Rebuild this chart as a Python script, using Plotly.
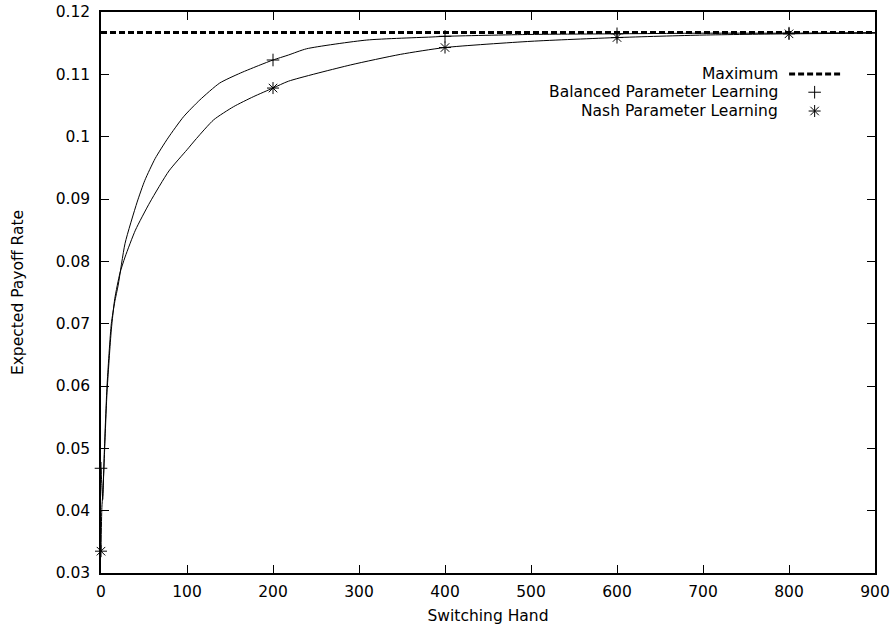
import plotly.graph_objects as go

# Learning curves: expected payoff rate against the hand at which play switches
hands_balanced = [0, 1, 2, 3, 4, 7, 12, 16, 20, 28, 42, 51, 63, 78, 96, 115, 138,
                  162, 185, 200, 218, 239, 309, 386, 400, 500, 600, 700, 800, 900]
payoff_balanced = [0.0468, 0.0440, 0.0418, 0.0455, 0.0500, 0.0600, 0.0700, 0.0735,
                   0.0762, 0.0829, 0.0895, 0.0930, 0.0965, 0.0998, 0.1032, 0.1059,
                   0.1086, 0.1102, 0.1115, 0.1123, 0.1131, 0.1141, 0.1155, 0.1160,
                   0.1161, 0.1164, 0.1165, 0.1166, 0.1166, 0.1167]

hands_nash = [0, 1, 2, 4, 7, 12, 16, 22, 28, 40, 57, 79, 100, 111, 131, 154, 177,
              200, 218, 290, 348, 400, 500, 600, 700, 800, 900]
payoff_nash = [0.0335, 0.0405, 0.0425, 0.0490, 0.0590, 0.0690, 0.0740, 0.0781,
               0.0807, 0.0850, 0.0895, 0.0945, 0.0979, 0.0997, 0.1027, 0.1048,
               0.1064, 0.1078, 0.1089, 0.1115, 0.1132, 0.1143, 0.1153, 0.1159,
               0.1163, 0.1165, 0.1166]

max_payoff = 0.1167
hand_range = [0, 900]
marker_hands = [0, 200, 400, 600, 800]

x_ticks = [0, 100, 200, 300, 400, 500, 600, 700, 800, 900]
y_ticks = [0.03, 0.04, 0.05, 0.06, 0.07, 0.08, 0.09, 0.10, 0.11, 0.12]
y_tick_text = ["0.03", "0.04", "0.05", "0.06", "0.07", "0.08", "0.09", "0.1", "0.11", "0.12"]

legend_labels = ["Maximum", "Balanced Parameter Learning", "Nash Parameter Learning"]

FONT = "DejaVu Sans"
FS = 15.5
INK = "black"

PLUS = dict(symbol="cross-thin-open", size=9, color=INK, line=dict(color=INK, width=1))
STAR = dict(symbol="asterisk-open", size=10, color=INK, line=dict(color=INK, width=1))


def every(xs, ys, keep):
    pairs = [(x, y) for x, y in zip(xs, ys) if x in keep]
    return [p[0] for p in pairs], [p[1] for p in pairs]


fig = go.Figure()

# Maximum reference level
fig.add_trace(go.Scatter(x=hand_range, y=[max_payoff, max_payoff], mode="lines",
                         line=dict(color=INK, width=3, dash="6px,3px"),
                         hoverinfo="skip"))

# Learning curves
fig.add_trace(go.Scatter(x=hands_balanced, y=payoff_balanced, mode="lines",
                         line=dict(color=INK, width=1, shape="spline", smoothing=0.6)))
fig.add_trace(go.Scatter(x=hands_nash, y=payoff_nash, mode="lines",
                         line=dict(color=INK, width=1, shape="spline", smoothing=0.6)))

# Point markers every 200 hands
bx, by = every(hands_balanced, payoff_balanced, marker_hands)
nx, ny = every(hands_nash, payoff_nash, marker_hands)
fig.add_trace(go.Scatter(x=bx, y=by, mode="markers", cliponaxis=False, marker=PLUS))
fig.add_trace(go.Scatter(x=nx, y=ny, mode="markers", cliponaxis=False, marker=STAR))

# Key, drawn gnuplot-style with the sample to the right of each label
key_x_text = 0.877
key_x0, key_x1 = 0.889, 0.955
key_rows = [0.8895, 0.857, 0.8235]
fig.add_trace(go.Scatter(x=[key_x0, key_x1], y=[key_rows[0]] * 2, mode="lines",
                         xaxis="x2", yaxis="y2",
                         line=dict(color=INK, width=3, dash="6px,3px")))
fig.add_trace(go.Scatter(x=[(key_x0 + key_x1) / 2], y=[key_rows[1]], mode="markers",
                         xaxis="x2", yaxis="y2", marker=PLUS))
fig.add_trace(go.Scatter(x=[(key_x0 + key_x1) / 2], y=[key_rows[2]], mode="markers",
                         xaxis="x2", yaxis="y2", marker=STAR))

annotations = [
    dict(text=lbl, x=key_x_text, y=row, xref="paper", yref="paper",
         xanchor="right", yanchor="middle", showarrow=False,
         font=dict(family=FONT, size=FS, color=INK))
    for lbl, row in zip(legend_labels, key_rows)
]

axis_common = dict(showline=True, linecolor=INK, linewidth=1.5, mirror="ticks",
                   ticks="inside", ticklen=8, tickwidth=1, tickcolor=INK,
                   showgrid=False, zeroline=False, automargin=False,
                   tickfont=dict(family=FONT, size=FS, color=INK))

fig.update_layout(
    width=896, height=633,
    margin=dict(l=101, r=21, t=12, b=60),
    paper_bgcolor="white", plot_bgcolor="white",
    showlegend=False,
    annotations=annotations,
    xaxis=dict(range=hand_range, tickvals=x_ticks, ticklabelstandoff=4,
               title=dict(text="Switching Hand", standoff=10,
                          font=dict(family=FONT, size=FS, color=INK)),
               **axis_common),
    yaxis=dict(range=[0.03, 0.12], tickvals=y_ticks, ticktext=y_tick_text,
               ticklabelstandoff=6,
               title=dict(text="Expected Payoff Rate", standoff=28,
                          font=dict(family=FONT, size=FS, color=INK)),
               **axis_common),
    xaxis2=dict(range=[0, 1], overlaying="x", visible=False, automargin=False),
    yaxis2=dict(range=[0, 1], overlaying="y", visible=False, automargin=False),
)

fig.write_html("out.html")
